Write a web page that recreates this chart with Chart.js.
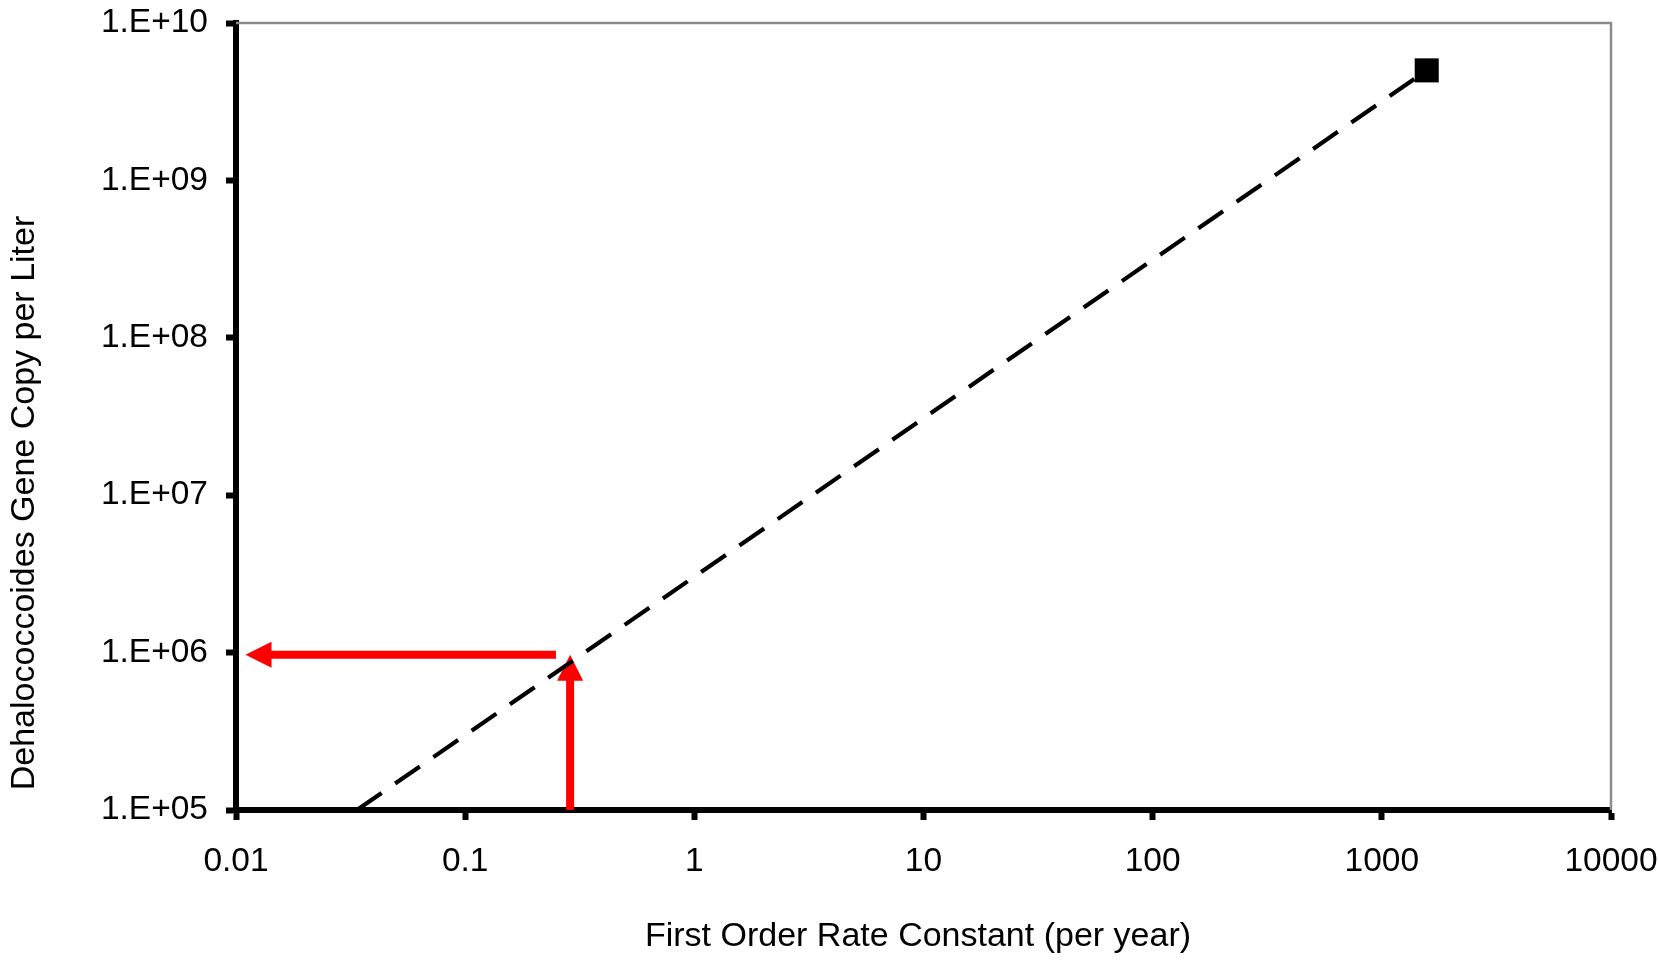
<!DOCTYPE html>
<html>
<head>
<meta charset="utf-8">
<script src="https://cdn.jsdelivr.net/npm/chart.js@4.4.1/dist/chart.umd.min.js"></script>
<style>
  html, body { margin: 0; padding: 0; background: #fff; }
  #wrap { width: 1658px; height: 963px; position: relative; }
</style>
</head>
<body>
<div id="wrap"><canvas id="chart"></canvas></div>
<script>
// ─── DATA ─────────────────────────────────────────────────────────────────────
const X_TICKS  = [0.01, 0.1, 1, 10, 100, 1000, 10000];
const X_LABELS = ["0.01", "0.1", "1", "10", "100", "1000", "10000"];
const Y_TICKS  = [1e5, 1e6, 1e7, 1e8, 1e9, 1e10];
const Y_LABELS = ["1.E+05", "1.E+06", "1.E+07", "1.E+08", "1.E+09", "1.E+10"];

const X_TITLE = "First Order Rate Constant (per year)";
const Y_TITLE = "Dehalococcoides Gene Copy per Liter";

// dashed trend line (rate constant vs gene copies)
const TREND_X = [0.0337, 1570];
const TREND_Y = [1e5, 5e9];

// measured point
const POINT_X = [1570];
const POINT_Y = [5e9];

// red arrows: [from, to]
const ARROW_UP_X   = [0.287, 0.287];
const ARROW_UP_Y   = [1e5, 9.7e5];
const ARROW_LEFT_X = [0.249, 0.011];
const ARROW_LEFT_Y = [9.7e5, 9.7e5];

const FONT = "'Liberation Sans', Arial, sans-serif";

// ─── PLUGINS ──────────────────────────────────────────────────────────────────
const framePlugin = {
  id: "frame",
  beforeDatasetsDraw(chart) {
    const { ctx, chartArea: a } = chart;
    ctx.save();
    ctx.strokeStyle = "#8c8c8c";
    ctx.lineWidth = 2.5;
    ctx.beginPath();
    ctx.moveTo(a.left, a.top);
    ctx.lineTo(a.right, a.top);
    ctx.lineTo(a.right, a.bottom);
    ctx.stroke();
    ctx.restore();
  }
};

function drawArrow(chart, xs, ys) {
  const { ctx, scales } = chart;
  const x0 = scales.x.getPixelForValue(xs[0]), y0 = scales.y.getPixelForValue(ys[0]);
  const x1 = scales.x.getPixelForValue(xs[1]), y1 = scales.y.getPixelForValue(ys[1]);
  const len = Math.hypot(x1 - x0, y1 - y0);
  const ux = (x1 - x0) / len, uy = (y1 - y0) / len;
  const head = 26, half = 13;
  const bx = x1 - ux * head, by = y1 - uy * head;
  ctx.save();
  ctx.strokeStyle = "#ff0000";
  ctx.fillStyle = "#ff0000";
  ctx.lineWidth = 8;
  ctx.beginPath();
  ctx.moveTo(x0, y0);
  ctx.lineTo(bx + ux, by + uy);
  ctx.stroke();
  ctx.beginPath();
  ctx.moveTo(x1, y1);
  ctx.lineTo(bx - uy * half, by + ux * half);
  ctx.lineTo(bx + uy * half, by - ux * half);
  ctx.closePath();
  ctx.fill();
  ctx.restore();
}

const arrowPlugin = {
  id: "arrows",
  beforeDatasetsDraw(chart) {
    drawArrow(chart, ARROW_LEFT_X, ARROW_LEFT_Y);
    drawArrow(chart, ARROW_UP_X, ARROW_UP_Y);
  }
};

// axis titles: placed where the original has them (slightly off-centre)
const titlesPlugin = {
  id: "titles",
  afterDraw(chart) {
    const { ctx } = chart;
    ctx.save();
    ctx.fillStyle = "#000";
    ctx.font = `34px ${FONT}`;
    ctx.textAlign = "center";
    ctx.textBaseline = "middle";
    ctx.fillText(X_TITLE, 918, 937);
    ctx.translate(25, 503);
    ctx.rotate(-Math.PI / 2);
    ctx.fillText(Y_TITLE, 0, 0);
    ctx.restore();
  }
};

// ─── CHART ────────────────────────────────────────────────────────────────────
const toPoints = (xs, ys) => xs.map((x, i) => ({ x, y: ys[i] }));

const tickGrid = { drawOnChartArea: false, drawTicks: true, tickLength: 10, tickWidth: 6, tickColor: "#000" };

new Chart(document.getElementById("chart"), {
  type: "scatter",
  data: {
    datasets: [
      {
        label: "trend",
        data: toPoints(TREND_X, TREND_Y),
        showLine: true,
        borderColor: "#000",
        borderWidth: 4.2,
        borderDash: [30, 16.5],
        pointRadius: 0,
        clip: false,
      },
      {
        label: "measured",
        data: toPoints(POINT_X, POINT_Y),
        pointStyle: "rect",
        pointRadius: 17,
        backgroundColor: "#000",
        borderColor: "#000",
        borderWidth: 0,
      }
    ]
  },
  options: {
    responsive: true,
    maintainAspectRatio: false,
    animation: false,
    layout: { padding: { top: 23, right: 47, left: 0, bottom: 0 } },
    plugins: {
      legend: { display: false },
      tooltip: { enabled: false },
    },
    scales: {
      x: {
        type: "logarithmic",
        min: 0.01, max: 10000,
        afterBuildTicks: s => { s.ticks = X_TICKS.map(v => ({ value: v })); },
        afterFit: s => { s.height = 963 - 810; s.paddingLeft = 0; s.paddingRight = 0; },
        border: { color: "#000", width: 6 },
        grid: tickGrid,
        ticks: {
          autoSkip: false, maxRotation: 0, padding: 22,
          color: "#000", font: { family: FONT, size: 33.5 },
          callback: (v, i) => X_LABELS[i],
        },
        title: { display: false },
      },
      y: {
        type: "logarithmic",
        min: 1e5, max: 1e10,
        afterBuildTicks: s => { s.ticks = Y_TICKS.map(v => ({ value: v })); },
        afterFit: s => { s.width = 236; s.paddingTop = 0; s.paddingBottom = 0; },
        border: { color: "#000", width: 6 },
        grid: tickGrid,
        ticks: {
          autoSkip: false, padding: 18,
          color: "#000", font: { family: FONT, size: 33.5 },
          callback: (v, i) => Y_LABELS[i],
        },
        title: { display: false },
      }
    }
  },
  plugins: [framePlugin, arrowPlugin, titlesPlugin]
});
</script>
</body>
</html>
